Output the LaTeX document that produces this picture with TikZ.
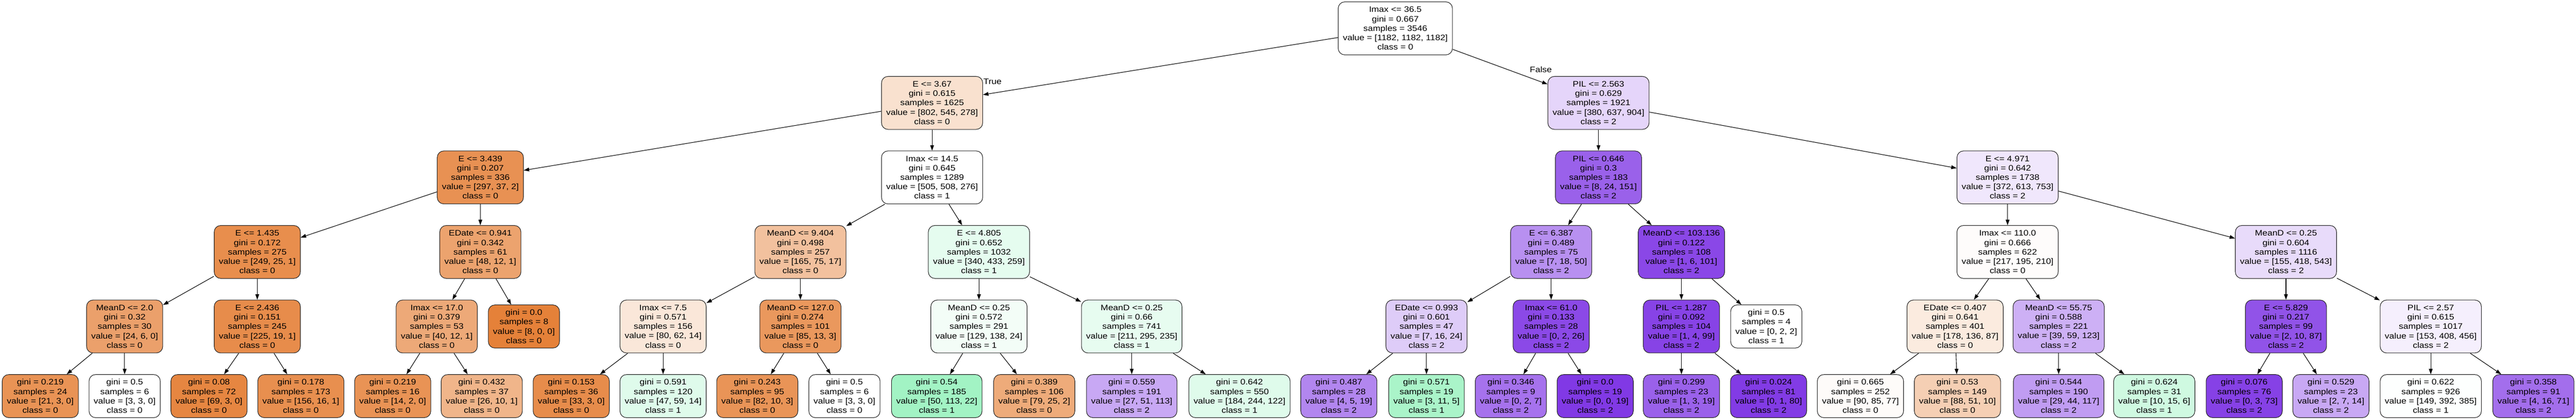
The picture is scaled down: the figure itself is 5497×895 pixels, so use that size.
\documentclass[tikz,border=0pt]{standalone}
\usepackage{fontspec}
\setmainfont{Liberation Sans}[FakeStretch=1.13]
\usepackage{xcolor}
\usetikzlibrary{arrows.meta}
\definecolor{arancio}{RGB}{229,129,57}
\definecolor{verde}{RGB}{57,229,129}
\definecolor{viola}{RGB}{129,57,229}
\newcommand{\tint}[5]{#1\\gini = #2\\samples = #3\\value = [#4]\\class = #5}
\newcommand{\tfog}[4]{gini = #1\\samples = #2\\value = [#3]\\class = #4}
\tikzset{
    scatola/.style = {draw=black!85, line width=1.2pt, rounded corners=14pt, align=center, inner xsep=10pt, inner ysep=0pt, font=\fontsize{17}{20}\selectfont},
    interno/.style = {scatola, minimum height=113pt},
    foglia/.style = {scatola, minimum height=92pt},
    arco/.style = {line width=1.2pt, -{Triangle[length=11.6pt, width=8pt]}},
    etichetta/.style = {font=\fontsize{17}{20}\selectfont, inner sep=0pt}
}

\begin{document}
\begin{tikzpicture}[x=1pt, y=-1pt]
    % Parametri
    \pgfmathsetmacro{\ya}{60.5}
    \pgfmathsetmacro{\yb}{219.5}
    \pgfmathsetmacro{\yc}{378.5}
    \pgfmathsetmacro{\yd}{537.5}
    \pgfmathsetmacro{\ye}{696.5}
    \pgfmathsetmacro{\yf}{845}
    \useasboundingbox (0,0) rectangle (5497,895);

    % Radice e primi livelli
    \node[interno] (n) at (2977.5,\ya) {\tint{Imax <= 36.5}{0.667}{3546}{1182, 1182, 1182}{0}};
    \node[interno, fill=arancio!24] (nL) at (1989,\yb) {\tint{E <= 3.67}{0.615}{1625}{802, 545, 278}{0}};
    \node[interno, fill=viola!21] (nR) at (3411,\yb) {\tint{PIL <= 2.563}{0.629}{1921}{380, 637, 904}{2}};
    \node[interno, fill=arancio!87] (nLL) at (1025,\yc) {\tint{E <= 3.439}{0.207}{336}{297, 37, 2}{0}};
    \node[interno] (nLR) at (1989,\yc) {\tint{Imax <= 14.5}{0.645}{1289}{505, 508, 276}{1}};
    \node[interno, fill=viola!80] (nRL) at (3411,\yc) {\tint{PIL <= 0.646}{0.3}{183}{8, 24, 151}{2}};
    \node[interno, fill=viola!12] (nRR) at (4284,\yc) {\tint{E <= 4.971}{0.642}{1738}{372, 613, 753}{2}};

    % Livello 3
    \node[interno, fill=arancio!90] (nLLL) at (549,\yd) {\tint{E <= 1.435}{0.172}{275}{249, 25, 1}{0}};
    \node[interno, fill=arancio!73] (nLLR) at (1025,\yd) {\tint{EDate <= 0.941}{0.342}{61}{48, 12, 1}{0}};
    \node[interno, fill=arancio!49] (nLRL) at (1708,\yd) {\tint{MeanD <= 9.404}{0.498}{257}{165, 75, 17}{0}};
    \node[interno, fill=verde!13] (nLRR) at (2089,\yd) {\tint{E <= 4.805}{0.652}{1032}{340, 433, 259}{1}};
    \node[interno, fill=viola!56] (nRLL) at (3310,\yd) {\tint{E <= 6.387}{0.489}{75}{7, 18, 50}{2}};
    \node[interno, fill=viola!93] (nRLR) at (3588,\yd) {\tint{MeanD <= 103.136}{0.122}{108}{1, 6, 101}{2}};
    \node[interno, fill=arancio!2] (nRRL) at (4284,\yd) {\tint{Imax <= 110.0}{0.666}{622}{217, 195, 210}{0}};
    \node[interno, fill=viola!18] (nRRR) at (4878,\yd) {\tint{MeanD <= 0.25}{0.604}{1116}{155, 418, 543}{2}};

    % Livello 4
    \node[interno, fill=arancio!75] (nLLLL) at (266,\ye) {\tint{MeanD <= 2.0}{0.32}{30}{24, 6, 0}{0}};
    \node[interno, fill=arancio!91] (nLLLR) at (549,\ye) {\tint{E <= 2.436}{0.151}{245}{225, 19, 1}{0}};
    \node[interno, fill=arancio!68] (nLLRL) at (932,\ye) {\tint{Imax <= 17.0}{0.379}{53}{40, 12, 1}{0}};
    \node[foglia, fill=arancio] (nLLRR) at (1118,\ye) {\tfog{0.0}{8}{8, 0, 0}{0}};
    \node[interno, fill=arancio!19] (nLRLL) at (1415,\ye) {\tint{Imax <= 7.5}{0.571}{156}{80, 62, 14}{0}};
    \node[interno, fill=arancio!82] (nLRLR) at (1708,\ye) {\tint{MeanD <= 127.0}{0.274}{101}{85, 13, 3}{0}};
    \node[interno, fill=verde!6] (nLRRL) at (2089,\ye) {\tint{MeanD <= 0.25}{0.572}{291}{129, 138, 24}{1}};
    \node[interno, fill=verde!12] (nLRRR) at (2415,\ye) {\tint{MeanD <= 0.25}{0.66}{741}{211, 295, 235}{1}};
    \node[interno, fill=viola!26] (nRLLL) at (3044,\ye) {\tint{EDate <= 0.993}{0.601}{47}{7, 16, 24}{2}};
    \node[interno, fill=viola!92] (nRLLR) at (3310,\ye) {\tint{Imax <= 61.0}{0.133}{28}{0, 2, 26}{2}};
    \node[interno, fill=viola!95] (nRLRL) at (3588,\ye) {\tint{PIL <= 1.287}{0.092}{104}{1, 4, 99}{2}};
    \node[foglia] (nRLRR) at (3769,\ye) {\tfog{0.5}{4}{0, 2, 2}{1}};
    \node[interno, fill=arancio!16] (nRRLL) at (4172,\ye) {\tint{EDate <= 0.407}{0.641}{401}{178, 136, 87}{0}};
    \node[interno, fill=viola!40] (nRRLR) at (4393,\ye) {\tint{MeanD <= 55.75}{0.588}{221}{39, 59, 123}{2}};
    \node[interno, fill=viola!87] (nRRRL) at (4878,\ye) {\tint{E <= 5.829}{0.217}{99}{2, 10, 87}{2}};
    \node[interno, fill=viola!8] (nRRRR) at (5187,\ye) {\tint{PIL <= 2.57}{0.615}{1017}{153, 408, 456}{2}};

    % Foglie
    \node[foglia, fill=arancio!86] (nLLLLL) at (86,\yf) {\tfog{0.219}{24}{21, 3, 0}{0}};
    \node[foglia] (nLLLLR) at (266,\yf) {\tfog{0.5}{6}{3, 3, 0}{0}};
    \node[foglia, fill=arancio!96] (nLLLRL) at (446,\yf) {\tfog{0.08}{72}{69, 3, 0}{0}};
    \node[foglia, fill=arancio!89] (nLLLRR) at (642,\yf) {\tfog{0.178}{173}{156, 16, 1}{0}};
    \node[foglia, fill=arancio!86] (nLLRLL) at (838,\yf) {\tfog{0.219}{16}{14, 2, 0}{0}};
    \node[foglia, fill=arancio!59] (nLLRLR) at (1028,\yf) {\tfog{0.432}{37}{26, 10, 1}{0}};
    \node[foglia, fill=arancio!91] (nLRLLL) at (1219,\yf) {\tfog{0.153}{36}{33, 3, 0}{0}};
    \node[foglia, fill=verde!16] (nLRLLR) at (1415,\yf) {\tfog{0.591}{120}{47, 59, 14}{1}};
    \node[foglia, fill=arancio!85] (nLRLRL) at (1616,\yf) {\tfog{0.243}{95}{82, 10, 3}{0}};
    \node[foglia] (nLRLRR) at (1802,\yf) {\tfog{0.5}{6}{3, 3, 0}{0}};
    \node[foglia, fill=verde!47] (nLRRLL) at (1999,\yf) {\tfog{0.54}{185}{50, 113, 22}{1}};
    \node[foglia, fill=arancio!67] (nLRRLR) at (2207,\yf) {\tfog{0.389}{106}{79, 25, 2}{0}};
    \node[foglia, fill=viola!44] (nLRRRL) at (2415,\yf) {\tfog{0.559}{191}{27, 51, 113}{2}};
    \node[foglia, fill=verde!16] (nLRRRR) at (2645,\yf) {\tfog{0.642}{550}{184, 244, 122}{1}};
    \node[foglia, fill=viola!61] (nRLLLL) at (2857,\yf) {\tfog{0.487}{28}{4, 5, 19}{2}};
    \node[foglia, fill=verde!43] (nRLLLR) at (3044,\yf) {\tfog{0.571}{19}{3, 11, 5}{1}};
    \node[foglia, fill=viola!71] (nRLLRL) at (3224,\yf) {\tfog{0.346}{9}{0, 2, 7}{2}};
    \node[foglia, fill=viola] (nRLLRR) at (3404,\yf) {\tfog{0.0}{19}{0, 0, 19}{2}};
    \node[foglia, fill=viola!80] (nRLRLL) at (3588,\yf) {\tfog{0.299}{23}{1, 3, 19}{2}};
    \node[foglia, fill=viola!99] (nRLRLR) at (3774,\yf) {\tfog{0.024}{81}{0, 1, 80}{2}};
    \node[foglia, fill=arancio!3] (nRRLLL) at (3970,\yf) {\tfog{0.665}{252}{90, 85, 77}{0}};
    \node[foglia, fill=arancio!38] (nRRLLR) at (4177,\yf) {\tfog{0.53}{149}{88, 51, 10}{0}};
    \node[foglia, fill=viola!50] (nRRLRL) at (4393,\yf) {\tfog{0.544}{190}{29, 44, 117}{2}};
    \node[foglia, fill=verde!24] (nRRLRR) at (4597,\yf) {\tfog{0.624}{31}{10, 15, 6}{1}};
    \node[foglia, fill=viola!96] (nRRRLL) at (4789,\yf) {\tfog{0.076}{76}{0, 3, 73}{2}};
    \node[foglia, fill=viola!44] (nRRRLR) at (4974,\yf) {\tfog{0.529}{23}{2, 7, 14}{2}};
    \node[foglia, fill=verde!1] (nRRRRL) at (5187,\yf) {\tfog{0.622}{926}{149, 392, 385}{1}};
    \node[foglia, fill=viola!73] (nRRRRR) at (5406,\yf) {\tfog{0.358}{91}{4, 16, 71}{2}};

    % Archi
    \foreach \a/\b in {n/nL, n/nR, nL/nLL, nL/nLR, nR/nRL, nR/nRR,
        nLL/nLLL, nLL/nLLR, nLR/nLRL, nLR/nLRR, nRL/nRLL, nRL/nRLR, nRR/nRRL, nRR/nRRR,
        nLLL/nLLLL, nLLL/nLLLR, nLLR/nLLRL, nLLR/nLLRR, nLRL/nLRLL, nLRL/nLRLR,
        nLRR/nLRRL, nLRR/nLRRR, nRLL/nRLLL, nRLL/nRLLR, nRLR/nRLRL, nRLR/nRLRR,
        nRRL/nRRLL, nRRL/nRRLR, nRRR/nRRRL, nRRR/nRRRR,
        nLLLL/nLLLLL, nLLLL/nLLLLR, nLLLR/nLLLRL, nLLLR/nLLLRR, nLLRL/nLLRLL, nLLRL/nLLRLR,
        nLRLL/nLRLLL, nLRLL/nLRLLR, nLRLR/nLRLRL, nLRLR/nLRLRR, nLRRL/nLRRLL, nLRRL/nLRRLR,
        nLRRR/nLRRRL, nLRRR/nLRRRR, nRLLL/nRLLLL, nRLLL/nRLLLR, nRLLR/nRLLRL, nRLLR/nRLLRR,
        nRLRL/nRLRLL, nRLRL/nRLRLR, nRRLL/nRRLLL, nRRLL/nRRLLR, nRRLR/nRRLRL, nRRLR/nRRLRR,
        nRRRL/nRRRLL, nRRRL/nRRRLR, nRRRR/nRRRRL, nRRRR/nRRRRR}
        \draw[arco] (\a) -- (\b);

    % True / False
    \node[etichetta] (vero) at (2118,174) {True};
    \node[etichetta] (falso) at (3288,148) {False};
\end{tikzpicture}
\end{document}
